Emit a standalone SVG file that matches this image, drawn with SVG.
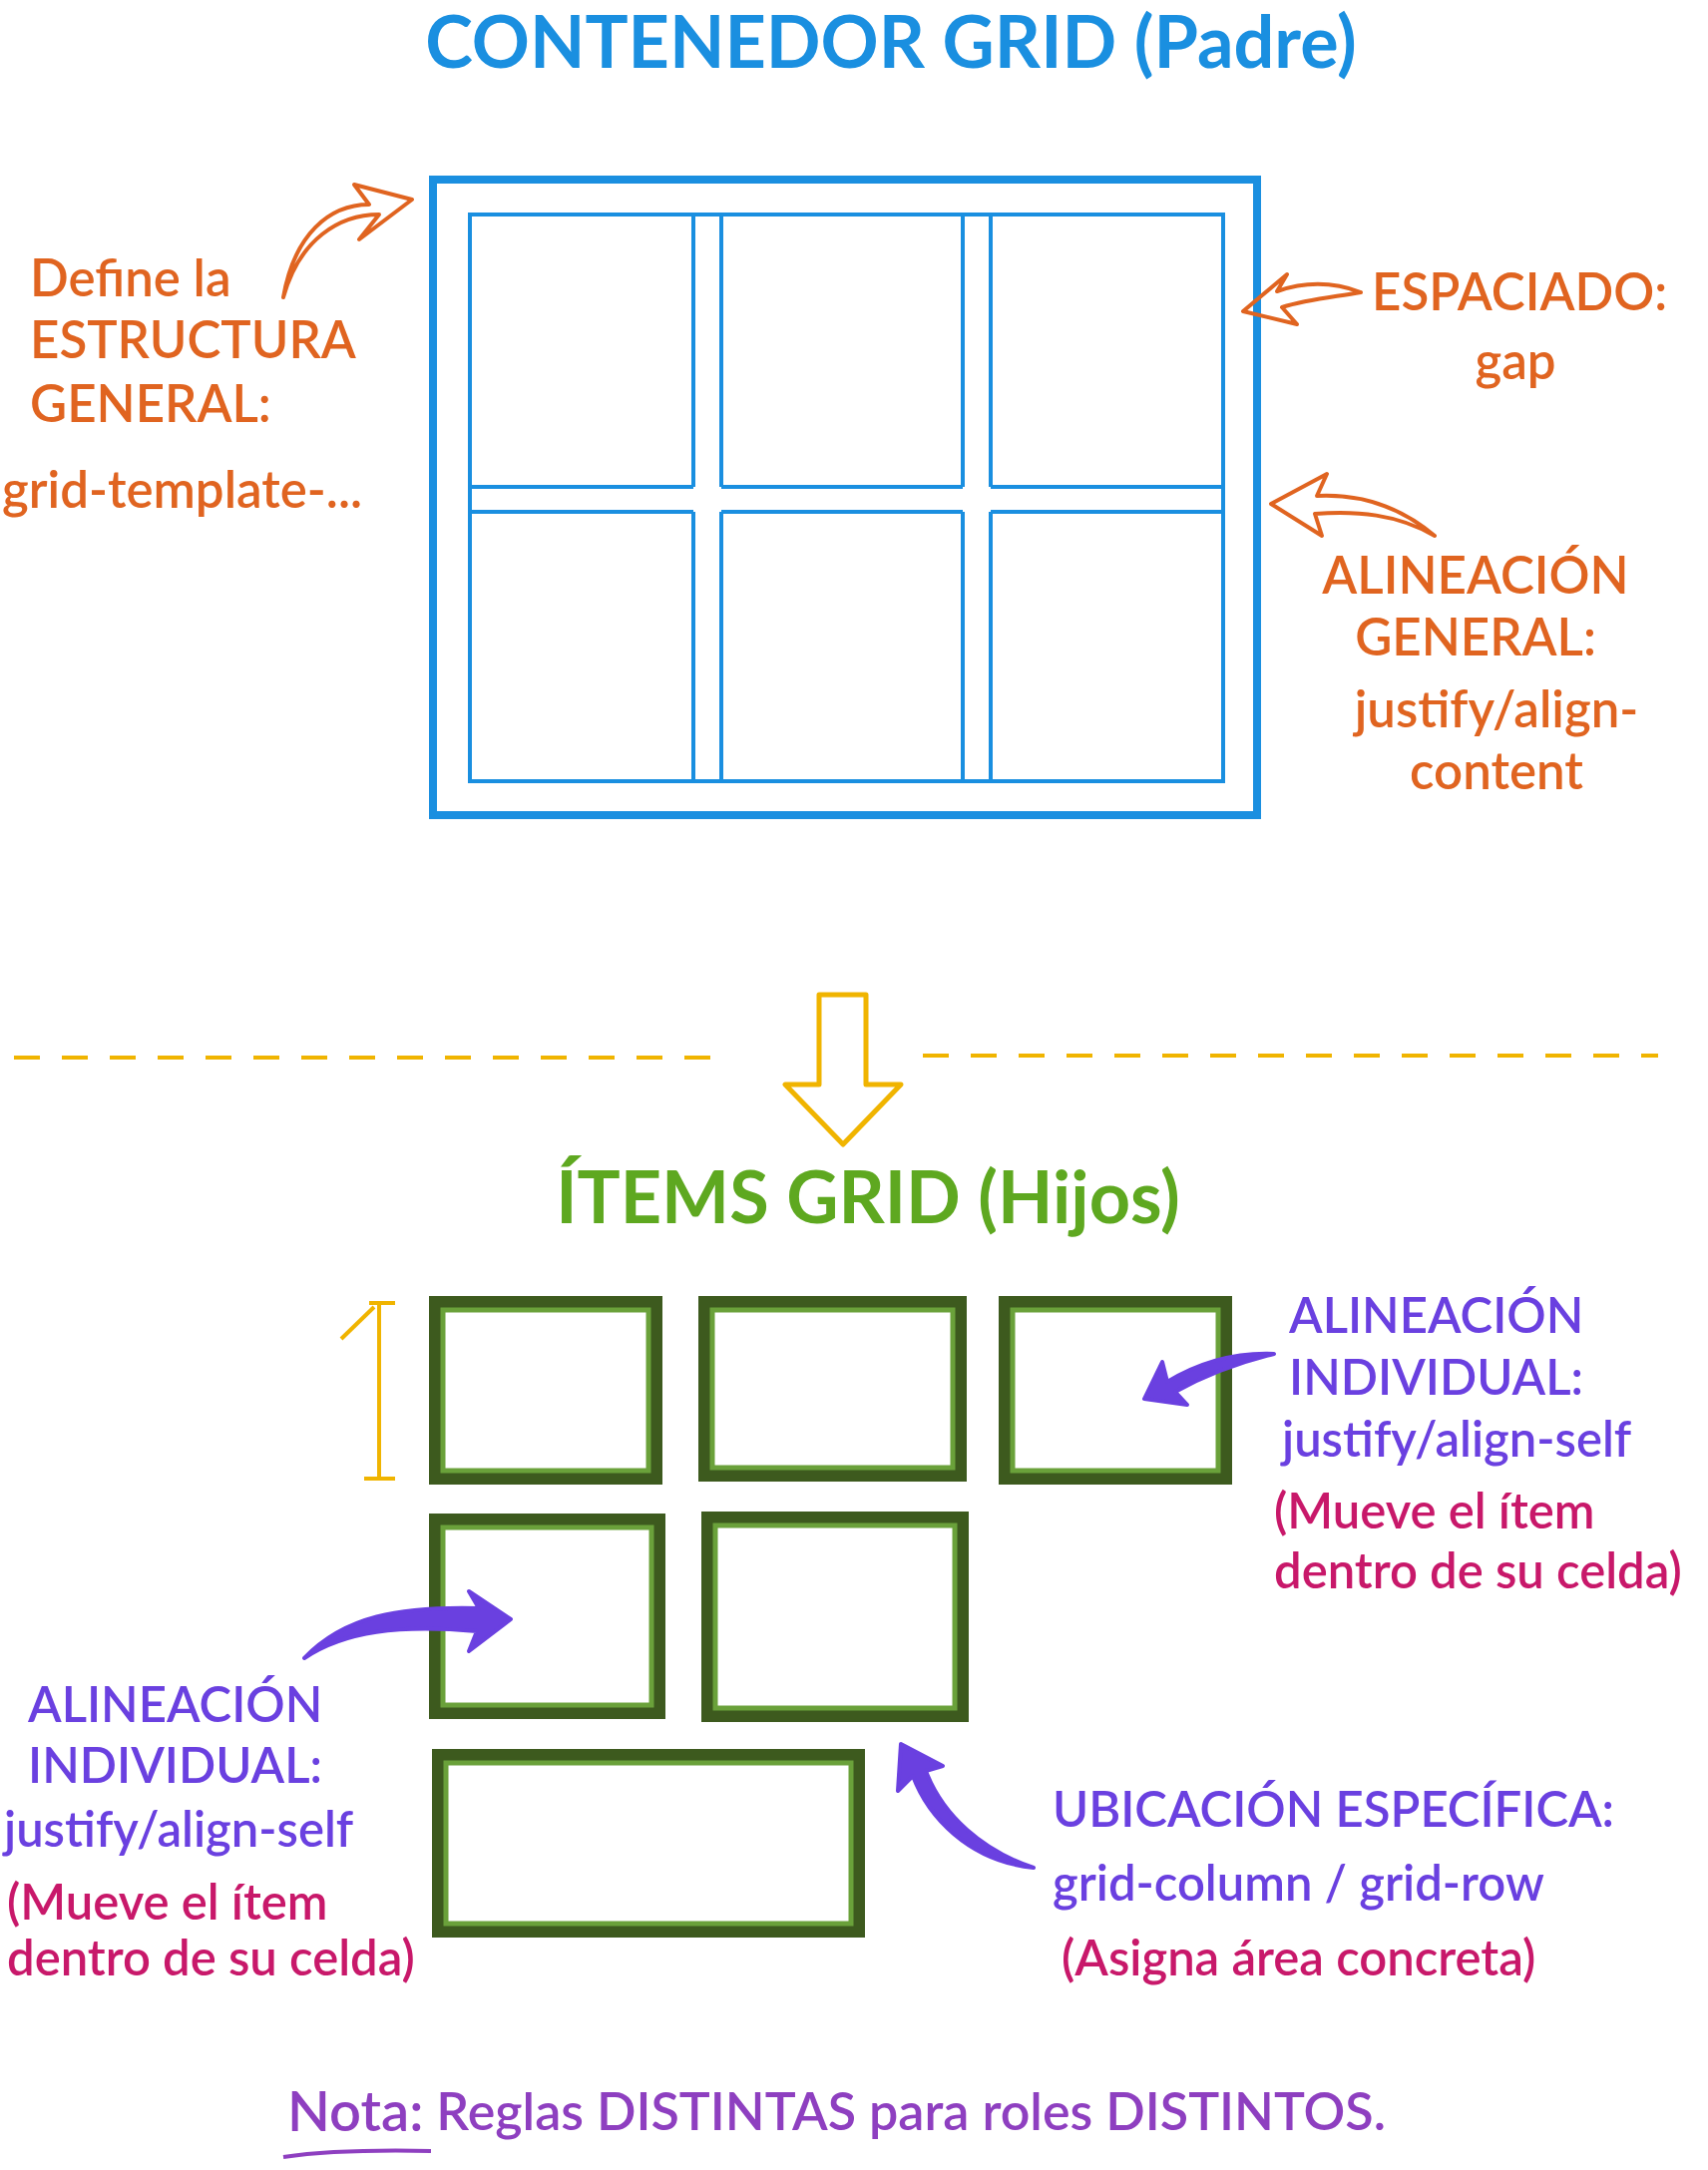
<svg xmlns="http://www.w3.org/2000/svg" width="1712" height="2175" viewBox="0 0 1712 2175">
<style>
text{font-family:Lato,"Open Sans",sans-serif;dominant-baseline:middle;font-weight:600}
.t{font-size:72px;font-weight:bold}
.o{fill:#e06420;font-size:51px}
.p{fill:#6a40e0;font-size:49px}
.c{fill:#c8186a;font-size:49px}
.blue{fill:none;stroke:#1a8fe0}
.arr{fill:none;stroke-width:4;stroke-linecap:round;stroke-linejoin:round}
.gb{fill:#fff;stroke:#3d5a1e;stroke-width:12}
.gi{fill:none;stroke:#6aa13a;stroke-width:5}
</style>
<rect width="1712" height="2175" fill="#fff"/>
<g id="title1"><text class="t" x="893" y="50" text-anchor="middle" fill="#1a8fe0">CONTENEDOR GRID (Padre)</text></g>
<g id="container">
<rect class="blue" x="434" y="180" width="826" height="637" stroke-width="8"/>
<rect class="blue" x="471" y="215" width="755" height="568" stroke-width="4"/>
<g class="blue" stroke-width="4">
<line x1="695" y1="215" x2="695" y2="488"/><line x1="723" y1="215" x2="723" y2="488"/>
<line x1="965" y1="215" x2="965" y2="488"/><line x1="993" y1="215" x2="993" y2="488"/>
<line x1="695" y1="513" x2="695" y2="783"/><line x1="723" y1="513" x2="723" y2="783"/>
<line x1="965" y1="513" x2="965" y2="783"/><line x1="993" y1="513" x2="993" y2="783"/>
<line x1="471" y1="488" x2="695" y2="488"/><line x1="723" y1="488" x2="965" y2="488"/><line x1="993" y1="488" x2="1226" y2="488"/>
<line x1="471" y1="513" x2="695" y2="513"/><line x1="723" y1="513" x2="965" y2="513"/><line x1="993" y1="513" x2="1226" y2="513"/>
</g>
</g>
<g id="lbl-struct">
<text class="o" x="30" y="284">Define la</text>
<text class="o" x="30" y="346">ESTRUCTURA</text>
<text class="o" x="30" y="410">GENERAL:</text>
<text class="o" x="2" y="496">grid-template-...</text>
</g>
<g id="lbl-gap">
<text class="o" x="1375" y="298">ESPACIADO:</text>
<text class="o" x="1519" y="367" text-anchor="middle">gap</text>
</g>
<g id="lbl-align">
<text class="o" x="1479" y="582" text-anchor="middle">ALINEACIÓN</text>
<text class="o" x="1479" y="644" text-anchor="middle">GENERAL:</text>
<text class="o" x="1500" y="716" text-anchor="middle">justify/align-</text>
<text class="o" x="1500" y="778" text-anchor="middle">content</text>
</g>
<g id="title2"><text class="t" x="870" y="1208" text-anchor="middle" fill="#5ea820">ÍTEMS GRID (Hijos)</text></g>
<g id="items">
<rect class="gb" x="436" y="1305" width="222" height="177"/><rect class="gi" x="444" y="1313" width="206" height="161"/>
<rect class="gb" x="706" y="1305" width="257" height="174"/><rect class="gi" x="714" y="1313" width="241" height="158"/>
<rect class="gb" x="1007" y="1305" width="222" height="177"/><rect class="gi" x="1015" y="1313" width="206" height="161"/>
<rect class="gb" x="436" y="1523" width="225" height="194"/><rect class="gi" x="444" y="1531" width="209" height="178"/>
<rect class="gb" x="709" y="1521" width="256" height="199"/><rect class="gi" x="717" y="1529" width="240" height="183"/>
<rect class="gb" x="439" y="1759" width="422" height="177"/><rect class="gi" x="447" y="1767" width="406" height="161"/>
</g>
<g id="connectors">
<g class="arr" stroke="#e06420">
<path d="M284 298 C300 240 340 215 380 215 L360 240 L413 200 L355 185 L370 205 C330 205 295 235 284 298"/>
<path d="M1364 293 C1330 280 1300 285 1280 292 L1290 275 L1246 312 L1300 325 L1285 308 C1310 300 1335 298 1364 293"/>
<path d="M1438 537 C1400 505 1360 495 1320 497 L1330 475 L1274 505 L1325 537 L1318 515 C1360 512 1400 515 1438 537"/>
</g>
<path d="M821 997 H868 V1087 H903 L845 1147 L787 1087 H821 Z" fill="none" stroke="#f0b400" stroke-width="5" stroke-linejoin="round"/>
<g stroke="#f0b400" stroke-width="4" stroke-dasharray="26 22">
<line x1="14" y1="1060" x2="727" y2="1060"/><line x1="925" y1="1058" x2="1662" y2="1058"/>
</g>
<g stroke="#f0b400" stroke-width="4" fill="none">
<line x1="380" y1="1306" x2="380" y2="1482"/><line x1="370" y1="1306" x2="396" y2="1306"/><line x1="365" y1="1482" x2="396" y2="1482"/>
<line x1="342" y1="1342" x2="375" y2="1310"/>
</g>
<g fill="#6a40e0" stroke="#6a40e0" stroke-width="4" stroke-linejoin="round">
<path d="M1277 1357 C1230 1355 1195 1370 1170 1385 L1165 1365 L1147 1402 L1190 1408 L1178 1395 C1205 1380 1240 1366 1277 1357 Z"/>
<path d="M305 1662 C345 1620 400 1610 480 1612 L470 1595 L512 1623 L470 1655 L478 1635 C400 1628 345 1635 305 1662 Z"/>
<path d="M1036 1872 C970 1865 930 1820 915 1780 L900 1795 L903 1748 L945 1770 L928 1775 C945 1820 985 1855 1036 1872 Z"/>
</g>
</g>
<g id="lbl-self-r">
<text class="p" x="1292" y="1323">ALINEACIÓN</text>
<text class="p" x="1292" y="1385">INDIVIDUAL:</text>
<text class="p" x="1285" y="1447">justify/align-self</text>
<text class="c" x="1277" y="1519">(Mueve el ítem</text>
<text class="c" x="1277" y="1579">dentro de su celda)</text>
</g>
<g id="lbl-self-l">
<text class="p" x="28" y="1713">ALINEACIÓN</text>
<text class="p" x="28" y="1774">INDIVIDUAL:</text>
<text class="p" x="4" y="1838">justify/align-self</text>
<text class="c" x="7" y="1911">(Mueve el ítem</text>
<text class="c" x="7" y="1967">dentro de su celda)</text>
</g>
<g id="lbl-place">
<text class="p" x="1055" y="1818">UBICACIÓN ESPECÍFICA:</text>
<text class="p" x="1055" y="1892">grid-column / grid-row</text>
<text class="c" x="1064" y="1967">(Asigna área concreta)</text>
</g>
<g id="note">
<text x="288" y="2122" font-size="52" fill="#8e3fc0"><tspan font-size="56">Nota:</tspan> Reglas DISTINTAS para roles DISTINTOS.</text>
<path d="M284 2162 Q340 2154 432 2156" stroke="#8e3fc0" stroke-width="4" fill="none"/>
</g>
</svg>
